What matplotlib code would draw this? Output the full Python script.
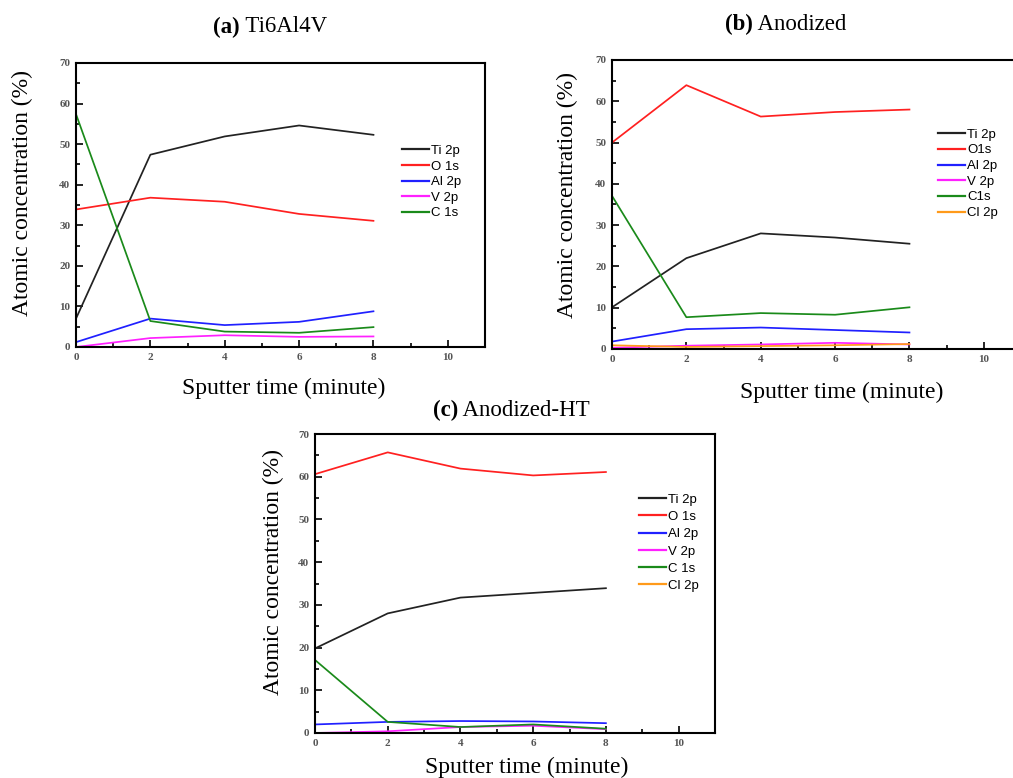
import matplotlib
matplotlib.use("Agg")
import matplotlib.pyplot as plt
from matplotlib.ticker import MultipleLocator

W, H = 1013, 778

# sputter times (minutes)
time = [0, 2, 4, 6, 8]

# (a) Ti6Al4V
a_ti = [7.0, 47.4, 51.9, 54.6, 52.3]
a_o = [33.9, 36.8, 35.8, 32.8, 31.1]
a_al = [1.2, 7.0, 5.4, 6.2, 8.8]
a_v = [0.0, 2.2, 2.9, 2.5, 2.6]
a_c = [57.4, 6.4, 3.8, 3.5, 4.9]

# (b) Anodized
b_ti = [10.1, 22.0, 28.0, 27.0, 25.5]
b_o = [50.0, 63.9, 56.3, 57.4, 58.0]
b_al = [1.8, 4.8, 5.2, 4.6, 4.0]
b_v = [0.3, 0.8, 1.1, 1.5, 1.1]
b_c = [37.1, 7.7, 8.7, 8.3, 10.1]
b_cl = [0.9, 0.5, 0.7, 0.9, 1.2]

# (c) Anodized-HT
c_ti = [19.8, 28.0, 31.7, 32.8, 33.9]
c_o = [60.6, 65.7, 61.9, 60.3, 61.1]
c_al = [2.0, 2.6, 2.8, 2.7, 2.3]
c_v = [0.0, 0.4, 1.4, 1.7, 0.9]
c_c = [17.1, 2.6, 1.4, 2.0, 1.0]
c_cl = [0.1, 0.1, 0.1, 0.1, 0.1]

colors = {"Ti": "#222222", "O": "#ff2020", "Al": "#2020ff", "V": "#ff20ff",
          "C": "#1a8a1a", "Cl": "#ff9a1a"}

serif = ["Liberation Serif", "DejaVu Serif"]
sans = ["Liberation Sans", "DejaVu Sans"]

fig = plt.figure(figsize=(W / 100, H / 100), dpi=100)


def px_axes(left, top, right, bottom):
    return fig.add_axes([left / W, 1 - bottom / H, (right - left) / W, (bottom - top) / H])


def style(ax):
    ax.set_xlim(0, 11)
    ax.set_ylim(0, 70)
    ax.xaxis.set_major_locator(MultipleLocator(2))
    ax.xaxis.set_minor_locator(MultipleLocator(1))
    ax.yaxis.set_major_locator(MultipleLocator(10))
    ax.yaxis.set_minor_locator(MultipleLocator(5))
    ax.set_xticks([0, 2, 4, 6, 8, 10])
    ax.tick_params(which="both", direction="in", width=1.2, top=False, right=False)
    ax.tick_params(which="major", length=5, pad=4)
    ax.tick_params(which="minor", length=3)
    for s in ax.spines.values():
        s.set_linewidth(1.5)
    for lab in ax.get_xticklabels() + ax.get_yticklabels():
        lab.set_family(serif)
        lab.set_fontsize(8)
        lab.set_color("#555555")
        lab.set_weight("bold")


def draw(ax, series, names, leg_anchor, spacing):
    for vals, key, name in zip(series, ["Ti", "O", "Al", "V", "C", "Cl"], names):
        ax.plot(time, vals, color=colors[key], lw=1.25, label=name)
    style(ax)
    leg = ax.legend(loc="upper left", bbox_to_anchor=(leg_anchor[0] / W, 1 - leg_anchor[1] / H),
                    bbox_transform=fig.transFigure, frameon=False, borderpad=0,
                    handlelength=2.1, handletextpad=0.15, labelspacing=spacing,
                    prop={"family": sans, "size": 9.5})
    for ln in leg.get_lines():
        ln.set_linewidth(1.6)


def labels(ax, xl_pos, yl_pos):
    fig.text(xl_pos[0] / W, 1 - xl_pos[1] / H, "Sputter time (minute)", family=serif,
             fontsize=17, ha="center", va="center")
    fig.text(yl_pos[0] / W, 1 - yl_pos[1] / H, "Atomic concentration (%)", family=serif,
             fontsize=17, ha="center", va="center", rotation=90)


def title(x, y, tag, name):
    fig.text(x / W, 1 - y / H, tag, family=serif, fontsize=16.5, weight="bold",
             ha="right", va="center")
    fig.text(x / W, 1 - y / H, " " + name, family=serif, fontsize=16.5, ha="left", va="center")


# (a)
ax_a = px_axes(76, 63, 485, 347)
draw(ax_a, [a_ti, a_o, a_al, a_v, a_c], ["Ti 2p", "O 1s", "Al 2p", "V 2p", "C 1s"],
     (395, 138), 0.26)
labels(ax_a, (284, 388), (22, 193))
title(240, 27, "(a)", "Ti6Al4V")

# (b)
ax_b = px_axes(612, 60, 1021, 349)
draw(ax_b, [b_ti, b_o, b_al, b_v, b_c, b_cl], ["Ti 2p", "O1s", "Al 2p", "V 2p", "C1s", "Cl 2p"],
     (931, 122), 0.26)
labels(ax_b, (842, 392), (567, 195))
title(753, 24, "(b)", "Anodized")

# (c)
ax_c = px_axes(315, 434, 715, 733)
draw(ax_c, [c_ti, c_o, c_al, c_v, c_c, c_cl], ["Ti 2p", "O 1s", "Al 2p", "V 2p", "C 1s", "Cl 2p"],
     (632, 487), 0.38)
labels(ax_c, (527, 767), (273, 572))
title(458, 410, "(c)", "Anodized-HT")

fig.savefig("out.png", dpi=100)
